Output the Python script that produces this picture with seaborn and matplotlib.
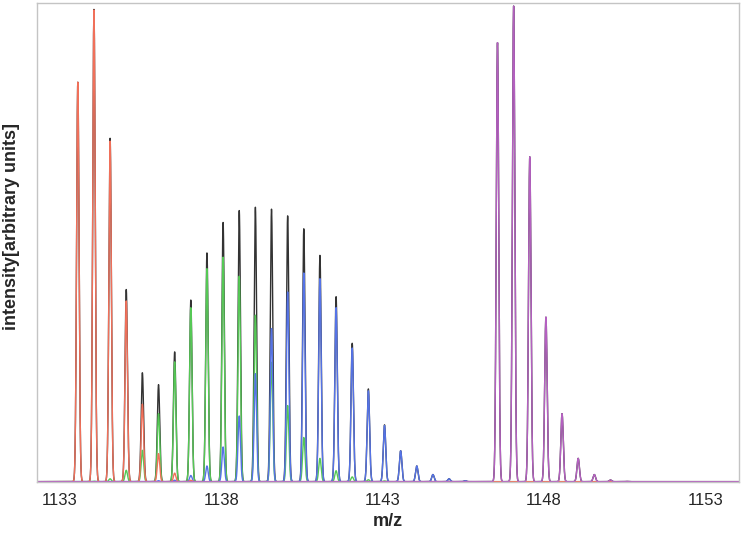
import numpy as np
import pandas as pd
import matplotlib
matplotlib.use("Agg")
import matplotlib.pyplot as plt
import seaborn as sns

# peak centroids (m/z) and heights (% of axis height)
red_mz = [1133.56, 1134.06, 1134.56, 1135.06, 1135.56, 1136.06, 1136.56, 1137.06]
red_int = [84.0, 99.2, 71.6, 38.0, 16.3, 5.9, 1.8, 0.3]

green_mz = [1134.06, 1134.56, 1135.06, 1135.56, 1136.06, 1136.56, 1137.06, 1137.56,
            1138.06, 1138.56, 1139.06, 1139.56, 1140.06, 1140.56, 1141.06, 1141.56,
            1142.06, 1142.56, 1143.06]
green_int = [0.1, 0.6, 2.4, 6.6, 14.3, 25.2, 36.6, 44.8, 47.2, 43.2, 35.0, 25.1,
             16.0, 9.3, 4.9, 2.3, 1.0, 0.4, 0.15]

blue_mz = [1136.06, 1136.56, 1137.06, 1137.56, 1138.06, 1138.56, 1139.06, 1139.56,
           1140.06, 1140.56, 1141.06, 1141.56, 1142.06, 1142.56, 1143.06, 1143.56,
           1144.06, 1144.56, 1145.06, 1145.56]
blue_int = [0.2, 0.3, 1.3, 3.3, 7.3, 13.8, 22.7, 32.2, 39.9, 43.9, 42.7, 36.6,
            28.1, 19.1, 11.8, 6.5, 3.3, 1.5, 0.6, 0.2]

purple_mz = [1146.56, 1147.06, 1147.56, 1148.06, 1148.56, 1149.06, 1149.56, 1150.06, 1150.56]
purple_int = [92.3, 100.0, 68.3, 34.6, 14.3, 4.9, 1.5, 0.35, 0.05]

x_ticks = [1133, 1138, 1143, 1148, 1153]

# profile grid / peak shape
mz = np.linspace(1132.3, 1154.05, 9000)
sigma = 0.038


def profile(centers, heights):
    y = np.zeros_like(mz)
    for c, h in zip(centers, heights):
        y += h * np.exp(-0.5 * ((mz - c) / sigma) ** 2)
    return y


red = profile(red_mz, red_int)
green = profile(green_mz, green_int)
blue = profile(blue_mz, blue_int)
purple = profile(purple_mz, purple_int)
total = red + green + blue + purple

df = pd.DataFrame({"mz": mz, "total": total, "red": red, "green": green,
                   "blue": blue, "purple": purple})

sns.set_style("white")
plt.rcParams['font.family'] = ['Liberation Sans', 'DejaVu Sans']

fig, ax = plt.subplots(figsize=(7.43, 5.34), dpi=100)
fig.subplots_adjust(left=0.05, right=0.995, bottom=0.098, top=0.994)

# summed spectrum underneath, the components drawn over it
sns.lineplot(data=df, x="mz", y="total", color="#333333", lw=1.0, ax=ax)
sns.lineplot(data=df, x="mz", y="green", color="#55c855", lw=1.0, ax=ax)
sns.lineplot(data=df, x="mz", y="blue", color="#5573e6", lw=1.0, ax=ax)
sns.lineplot(data=df, x="mz", y="red", color="#f0705a", lw=1.0, ax=ax)
sns.lineplot(data=df, x="mz", y="purple", color="#b460c0", lw=1.0, ax=ax)

ax.set_xlim(1132.3, 1154.05)
ax.set_ylim(0, 100.6)
ax.set_xticks(x_ticks)
ax.set_xticks(np.arange(1133, 1155, 1), minor=True)
ax.set_yticks([50])
ax.set_yticklabels([])
ax.tick_params(axis="x", which="both", length=3, color="#aaaaaa", labelsize=12, pad=5)
ax.tick_params(axis="y", length=3, color="#aaaaaa")
for s in ax.spines.values():
    s.set_color("#c4c4c4")
    s.set_linewidth(1.0)

ax.set_xlabel("m/z", fontsize=13, fontweight="bold", labelpad=4)
ax.set_ylabel("intensity[arbitrary units]", fontsize=13, fontweight="bold")
ax.yaxis.set_label_coords(-0.025, 0.534)

plt.savefig("out.png")
